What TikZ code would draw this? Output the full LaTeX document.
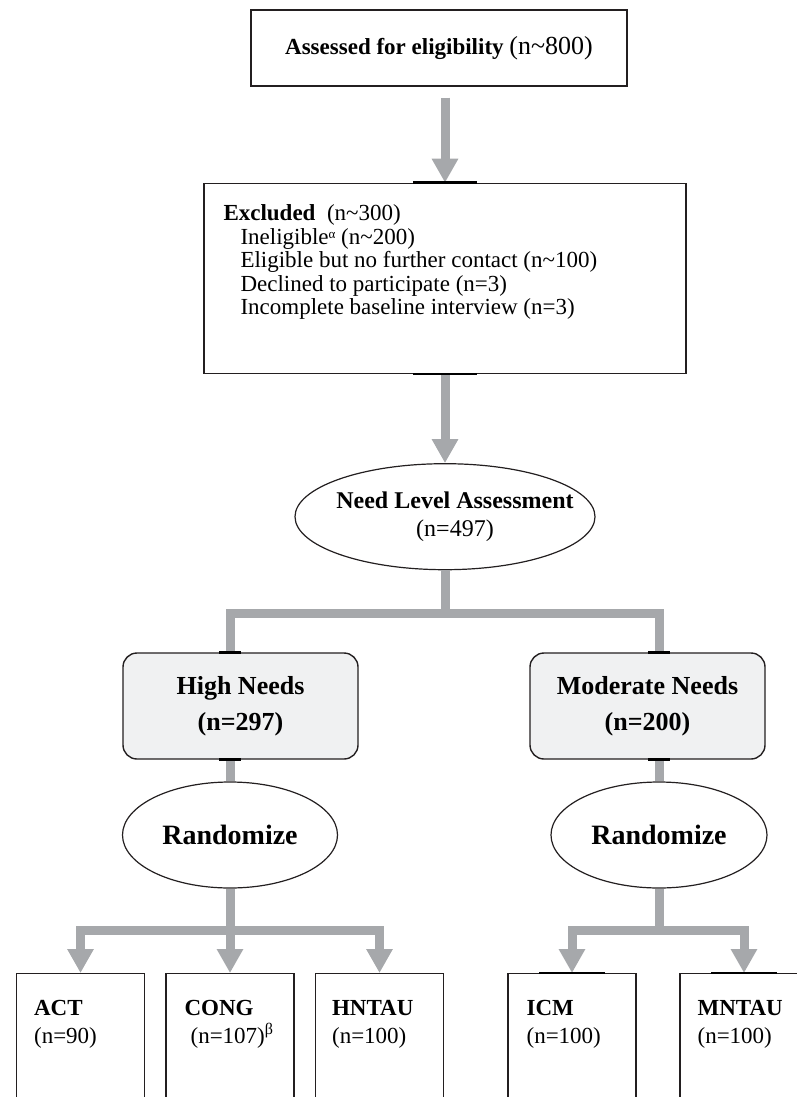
\documentclass[tikz,border=0pt]{standalone}
\usepackage{fontspec}
\setmainfont{Liberation Serif}
\usetikzlibrary{arrows.meta, positioning, shapes.geometric}
\definecolor{linkgray}{RGB}{166,168,171}
\definecolor{boxline}{RGB}{35,31,32}
\definecolor{needfill}{RGB}{240,241,242}

\begin{document}
\begin{tikzpicture}[
    x=1pt, y=-1pt,
    stage/.style={rectangle, draw=boxline, line width=1.4pt, fill=white, align=center, inner sep=0pt, minimum width=376pt, minimum height=76pt},
    listbox/.style={rectangle, draw=boxline, line width=1.4pt, fill=white, minimum width=482pt, minimum height=190pt},
    listtext/.style={anchor=north west, align=left, inner sep=0pt, font=\fontsize{23}{23.5}\selectfont},
    oval/.style={ellipse, draw=boxline, line width=1.2pt, fill=white, align=center, inner sep=-15pt},
    level/.style={rectangle, rounded corners=14pt, draw=boxline, line width=1.4pt, fill=needfill, align=center, minimum width=235pt, minimum height=106pt, font=\fontsize{26}{36}\selectfont\bfseries},
    armbox/.style={rectangle, draw=boxline, line width=1.2pt, fill=white, anchor=north, minimum width=128pt, minimum height=160pt},
    armtext/.style={anchor=north west, align=left, inner sep=0pt, font=\fontsize{23}{28}\selectfont},
    link/.style={draw=linkgray, line width=9pt},
    harrow/.style={link, -{Triangle[width=25pt, length=24pt]}},
    portline/.style={draw=black, line width=2.5pt}
]
\useasboundingbox (0,0) rectangle (797,1097);

% screening
\node[stage] (assess) at (439,48) {\fontsize{23}{26}\selectfont\textbf{Assessed for eligibility} {\fontsize{26}{26}\selectfont(n\textasciitilde800)}};
\node[listbox, below=96pt of assess, xshift=6pt] (excl) {};
\node[listtext] (excltext) at ([xshift=20pt, yshift=-22pt]excl.north west) {\textbf{Excluded}\ \ (n\textasciitilde300)\\
\hspace*{17pt}Ineligible\raisebox{6pt}{\fontsize{13}{13}\selectfont α} (n\textasciitilde200)\\
\hspace*{17pt}Eligible but no further contact (n\textasciitilde100)\\
\hspace*{17pt}Declined to participate (n=3)\\
\hspace*{17pt}Incomplete baseline interview (n=3)};
\node[oval, inner xsep=-30pt, minimum width=300pt, minimum height=106pt, below=89pt of excl, font=\fontsize{24}{28}\selectfont] (need) {\hspace*{20pt}\textbf{Need Level Assessment}\\\hspace*{20pt}(n=497)};

% need levels
\node[level] (high) at (240.5,706) {High Needs\\(n=297)};
\node[level] (mod) at (647.5,706) {Moderate Needs\\(n=200)};
\node[oval, minimum width=215pt, minimum height=106pt, font=\fontsize{28}{28}\selectfont\bfseries] (rndH) at (230,835) {Randomize};
\node[oval, minimum width=216pt, minimum height=106pt, font=\fontsize{28}{28}\selectfont\bfseries] (rndM) at (659,835) {Randomize};

% arms
\node[armbox] (act) at (80.5,973) {};
\node[armbox] (cong) at (230,973) {};
\node[armbox] (hntau) at (379.5,973) {};
\node[armbox] (icm) at (572,973) {};
\node[armbox] (mntau) at (744,973) {};
\node[armtext] (acttext) at ([xshift=18pt, yshift=-27pt]act.north west) {\textbf{ACT}\\(n=90)};
\node[armtext] (congtext) at ([xshift=19pt, yshift=-27pt]cong.north west) {\textbf{CONG}\\\hspace*{6pt}(n=107)\textsuperscript{β}};
\node[armtext] (hntautext) at ([xshift=17pt, yshift=-27pt]hntau.north west) {\textbf{HNTAU}\\(n=100)};
\node[armtext] (icmtext) at ([xshift=19pt, yshift=-27pt]icm.north west) {\textbf{ICM}\\(n=100)};
\node[armtext] (mntautext) at ([xshift=18pt, yshift=-27pt]mntau.north west) {\textbf{MNTAU}\\(n=100)};

\coordinate (split) at ([yshift=-43pt]need.south);
\coordinate (highin) at (high.north -| rndH.north);
\coordinate (highout) at (high.south -| rndH.north);
\coordinate (modin) at (mod.north -| rndM.north);
\coordinate (modout) at (mod.south -| rndM.north);
\coordinate (splitH) at ([yshift=-42pt]rndH.south);
\coordinate (splitM) at ([yshift=-42pt]rndM.south);

\draw[harrow, shorten <=11pt] (assess.south -| excl.north) -- (excl.north);
\draw[harrow] (excl.south) -- (need.north);
\draw[link] (need.south) -- (split);
\draw[link] (highin) |- (split) -| (modin);
\draw[link] (highout) -- (rndH.north);
\draw[link] (modout) -- (rndM.north);
\draw[link] (rndH.south) -- (splitH);
\draw[harrow] (splitH) -| (act.north);
\draw[harrow] (splitH) -- (cong.north);
\draw[harrow] (splitH) -| (hntau.north);
\draw[link] (rndM.south) -- (splitM);
\draw[harrow] (splitM) -| (icm.north);
\draw[harrow] (splitM) -| (mntau.north);

% dark marks where the links meet the boxes
\draw[portline] ([xshift=-32pt]excl.north) -- ([xshift=32pt]excl.north);
\draw[portline] ([xshift=-32pt]excl.south) -- ([xshift=32pt]excl.south);
\draw[portline] ([xshift=-11pt]highin) -- ([xshift=11pt]highin);
\draw[portline] ([xshift=-11pt]highout) -- ([xshift=11pt]highout);
\draw[portline] ([xshift=-11pt]modin) -- ([xshift=11pt]modin);
\draw[portline] ([xshift=-11pt]modout) -- ([xshift=11pt]modout);
\draw[portline] ([xshift=-33pt]icm.north) -- ([xshift=33pt]icm.north);
\draw[portline] ([xshift=-33pt]mntau.north) -- ([xshift=33pt]mntau.north);
\end{tikzpicture}
\end{document}
